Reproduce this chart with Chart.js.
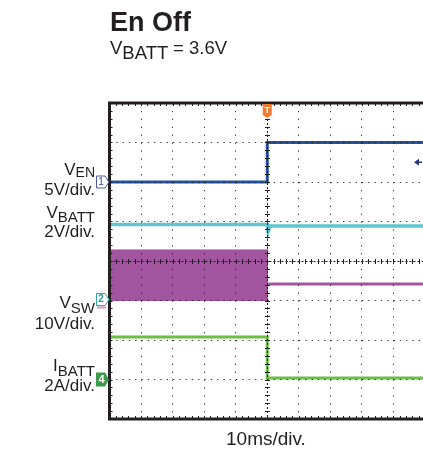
<!DOCTYPE html>
<html><head><meta charset="utf-8">
<script src="https://cdn.jsdelivr.net/npm/chart.js@4.4.1/dist/chart.umd.min.js"></script>
<style>
html,body{margin:0;padding:0;background:#fff;overflow:hidden;width:423px;height:450px}
#wrap{position:relative;width:423px;height:450px;overflow:hidden}
canvas{position:absolute;left:0;top:0}
.t{position:absolute;font-family:"Liberation Sans",Arial,Helvetica,sans-serif;color:#231f20;white-space:nowrap;line-height:1}
.r{text-align:right;right:328px;font-size:17px}
.s{position:relative;font-size:15px}
</style></head>
<body><div id="wrap">
<canvas id="c" width="425" height="450"></canvas>
<div class="t" style="left:110px;top:8.8px;font-size:27px;font-weight:bold">En Off</div>
<div class="t" style="left:110px;top:39.3px;font-size:18.5px">V<span style="position:relative;top:5px">BATT</span> = 3.6V</div>
<div class="t r" style="top:160.6px">V<span class="s" style="top:2px;font-size:14px">EN</span></div>
<div class="t r" style="top:180.6px">5V/div.</div>
<div class="t r" style="top:203.9px">V<span class="s" style="top:4px">BATT</span></div>
<div class="t r" style="top:223.3px">2V/div.</div>
<div class="t r" style="top:293.9px">V<span class="s" style="top:5px">SW</span></div>
<div class="t r" style="top:314.9px">10V/div.</div>
<div class="t r" style="top:357.3px">I<span class="s" style="top:5px">BATT</span></div>
<div class="t r" style="top:377.3px">2A/div.</div>
<div class="t" style="left:226px;top:428.6px;font-size:19px">10ms/div.</div>
</div>
<script>
// ---- data (time in ms, trigger at 0) ----
const enTime   = [-50, 0, 0, 50];
const vEN      = [0, 0, 5, 5];            // V
const battTime = [-50, 0, 0.3, 0.9, 50];
const vBATT    = [3.65, 3.65, 3.3, 3.57, 3.57]; // V
const swBandTime = [-50, 0.3];
const vSWPeak  = [12.8, 12.8];            // V (switching envelope top)
const vSWLow   = [0, 0];                  // V (switching envelope bottom)
const swTime   = [0.3, 50];
const vSWOff   = [4.2, 4.2];              // V after turn-off
const iTime    = [-50, 0, 0, 50];
const iBATT    = [2.15, 2.15, 0.08, 0.08]; // A
// ---- scope channel settings ----
const perDiv   = {en: 5, batt: 2, sw: 10, i: 2};
const gndDiv   = {en: 6, batt: 3.1, sw: 3, i: 1}; // ground level, divisions from bottom
const trigLevelEN = 2.5;

const pts = (xs, ys) => xs.map((x, k) => ({x, y: ys[k]}));
const chAxis = (k) => ({type: 'linear', display: false, min: -gndDiv[k]*perDiv[k], max: (8-gndDiv[k])*perDiv[k]});

const C = {en: '#24529e', batt: '#5fc6cf', sw: '#a1559f', i: '#6bbf45'};

const overlay = {
  id: 'overlay',
  afterDraw(chart) {
    const {ctx, chartArea: a, scales} = chart;
    const x = scales.x, y = scales.y;
    ctx.save();
    ctx.strokeStyle = '#231f20';
    ctx.lineWidth = 1;
    ctx.beginPath();
    const cy = Math.round(y.getPixelForValue(4)) + 0.5;
    const cx = Math.round(x.getPixelForValue(0)) + 0.5;
    for (let t = -50; t <= 50; t += 2) {
      const px = Math.round(x.getPixelForValue(t)) + 0.5;
      ctx.moveTo(px, cy - 2.5); ctx.lineTo(px, cy + 2.5);
      ctx.moveTo(px, a.top); ctx.lineTo(px, a.top + 3);
      ctx.moveTo(px, a.bottom); ctx.lineTo(px, a.bottom - 3);
    }
    for (let d = 0; d <= 8.001; d += 0.2) {
      const py = Math.round(y.getPixelForValue(d)) + 0.5;
      ctx.moveTo(cx - 2.5, py); ctx.lineTo(cx + 2.5, py);
      ctx.moveTo(a.left, py); ctx.lineTo(a.left + 3, py);
    }
    ctx.stroke();
    // center cross dashed
    ctx.setLineDash([2, 2]);
    ctx.beginPath();
    ctx.moveTo(cx, a.top); ctx.lineTo(cx, a.bottom);
    ctx.moveTo(a.left, cy); ctx.lineTo(a.right, cy);
    ctx.stroke();
    ctx.setLineDash([]);
    // frame
    ctx.lineWidth = 3;
    ctx.beginPath();
    ctx.moveTo(a.right + 2, a.top); ctx.lineTo(a.left, a.top); ctx.lineTo(a.left, a.bottom); ctx.lineTo(a.right + 2, a.bottom);
    ctx.stroke();

    const ff = '"Liberation Sans", Arial, sans-serif';
    ctx.textAlign = 'center'; ctx.textBaseline = 'middle';
    // channel 1 marker
    let py = scales.yEN.getPixelForValue(0);
    ctx.lineWidth = 1; ctx.strokeStyle = '#4a5aa8'; ctx.fillStyle = '#fff';
    ctx.beginPath();
    ctx.moveTo(96.5, py - 6); ctx.lineTo(105, py - 6); ctx.lineTo(109, py); ctx.lineTo(105, py + 6); ctx.lineTo(96.5, py + 6); ctx.closePath();
    ctx.fill(); ctx.stroke();
    ctx.fillStyle = '#3a4a9a'; ctx.font = '10px ' + ff; ctx.fillText('1', 101, py + 0.5);
    // channel 2 marker
    py = scales.ySW.getPixelForValue(0);
    ctx.strokeStyle = '#2aa5a8'; ctx.fillStyle = '#fff';
    ctx.beginPath();
    ctx.moveTo(96.5, py - 7); ctx.lineTo(105, py - 7); ctx.lineTo(109, py - 1); ctx.lineTo(105, py + 5); ctx.lineTo(96.5, py + 5); ctx.closePath();
    ctx.fill(); ctx.stroke();
    ctx.fillStyle = '#1f9a9c'; ctx.font = 'bold 10px ' + ff; ctx.fillText('2', 101, py - 1);
    ctx.fillStyle = '#c49ad0'; ctx.fillRect(97, py + 6, 9, 2);
    // channel 4 marker
    py = scales.yI.getPixelForValue(0);
    ctx.fillStyle = '#3c9a4a';
    ctx.beginPath();
    ctx.moveTo(96, py - 7); ctx.lineTo(105, py - 7); ctx.lineTo(109, py); ctx.lineTo(105, py + 7); ctx.lineTo(96, py + 7); ctx.closePath();
    ctx.fill();
    ctx.fillStyle = '#fff'; ctx.font = 'bold 11px ' + ff; ctx.fillText('4', 101.5, py + 0.5);
    // trigger time marker
    const tx = x.getPixelForValue(0);
    ctx.fillStyle = '#f47b2f';
    ctx.beginPath();
    ctx.moveTo(tx - 4.5, a.top + 1); ctx.lineTo(tx + 4.5, a.top + 1); ctx.lineTo(tx + 4.5, a.top + 12);
    ctx.lineTo(tx, a.top + 15); ctx.lineTo(tx - 4.5, a.top + 12); ctx.closePath();
    ctx.fill();
    ctx.fillStyle = '#fff'; ctx.font = 'bold 9px ' + ff; ctx.fillText('T', tx, a.top + 8);
    // trigger level marker
    py = scales.yEN.getPixelForValue(trigLevelEN);
    ctx.fillStyle = '#2b3580'; ctx.strokeStyle = '#2b3580'; ctx.lineWidth = 1.5;
    ctx.beginPath();
    ctx.moveTo(414, py); ctx.lineTo(419, py - 3.5); ctx.lineTo(419, py + 3.5); ctx.closePath(); ctx.fill();
    ctx.beginPath(); ctx.moveTo(418, py); ctx.lineTo(422, py); ctx.stroke();
    ctx.restore();
  }
};

new Chart(document.getElementById('c'), {
  type: 'line',
  data: {
    datasets: [
      {label: 'V_SW peak', data: pts(swBandTime, vSWPeak), yAxisID: 'ySW', borderColor: C.sw, borderWidth: 1, backgroundColor: C.sw, fill: '+1', pointRadius: 0},
      {label: 'V_SW low', data: pts(swBandTime, vSWLow), yAxisID: 'ySW', borderColor: C.sw, borderWidth: 1, fill: false, pointRadius: 0},
      {label: 'V_SW', data: pts(swTime, vSWOff), yAxisID: 'ySW', borderColor: C.sw, borderWidth: 3, fill: false, pointRadius: 0},
      {label: 'V_EN', data: pts(enTime, vEN), yAxisID: 'yEN', borderColor: C.en, borderWidth: 3, fill: false, pointRadius: 0},
      {label: 'V_BATT', data: pts(battTime, vBATT), yAxisID: 'yBATT', borderColor: C.batt, borderWidth: 3.5, fill: false, pointRadius: 0},
      {label: 'I_BATT', data: pts(iTime, iBATT), yAxisID: 'yI', borderColor: C.i, borderWidth: 3, fill: false, pointRadius: 0}
    ]
  },
  options: {
    responsive: false,
    animation: false,
    events: [],
    layout: {padding: {left: 109.5, top: 103, right: 0, bottom: 31}},
    plugins: {legend: {display: false}, tooltip: {enabled: false}, title: {display: false}},
    elements: {line: {tension: 0, borderCapStyle: 'butt', borderJoinStyle: 'miter'}},
    scales: {
      x: {type: 'linear', min: -50, max: 50, ticks: {display: false, stepSize: 10},
          grid: {z: 1, drawTicks: false, color: 'rgba(20,20,20,0.85)', lineWidth: 1},
          border: {display: false, dash: [1.3, 6.6]}},
      y: {type: 'linear', min: 0, max: 8, ticks: {display: false, stepSize: 1},
          grid: {z: 1, drawTicks: false, color: 'rgba(20,20,20,0.85)', lineWidth: 1},
          border: {display: false, dash: [1.3, 5]}},
      yEN: chAxis('en'),
      yBATT: chAxis('batt'),
      ySW: chAxis('sw'),
      yI: chAxis('i')
    }
  },
  plugins: [overlay]
});
</script>
</body></html>
